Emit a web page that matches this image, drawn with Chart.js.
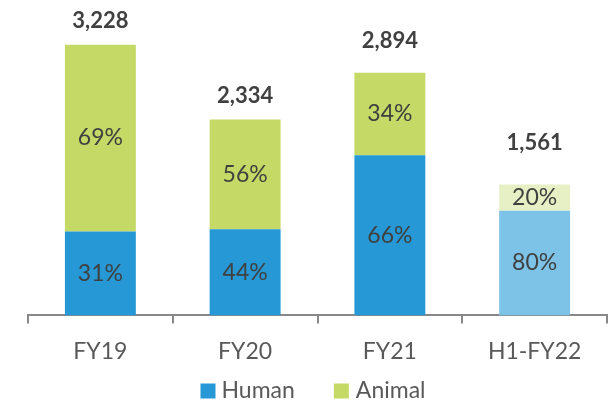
<!DOCTYPE html>
<html>
<head>
<meta charset="utf-8">
<script src="https://cdn.jsdelivr.net/npm/chart.js@4/dist/chart.umd.min.js"></script>
<style>
  body { margin: 0; background: #fff; }
  #wrap { width: 610px; height: 404px; }
</style>
</head>
<body>
<div id="wrap"><canvas id="myChart"></canvas></div>
<script>
// values
const categories = ['FY19', 'FY20', 'FY21', 'H1-FY22']
const totals = [3228, 2334, 2894, 1561]
const humanPct = [31, 44, 66, 80]
const animalPct = [69, 56, 34, 20]
const seriesNames = ['Human', 'Animal']

// colours, last bar is the half year so it is lighter
const humanColors = ['#2598d5', '#2598d5', '#2598d5', '#7dc3e7']
const animalColors = ['#c5d966', '#c5d966', '#c5d966', '#e7f0c4']
const totalGap = [24, 24, 32, 42]

const fontName = 'Lato, "Open Sans", sans-serif'

var humanVals = []
var animalVals = []
for (var i = 0; i < totals.length; i++) {
    humanVals.push(totals[i] * humanPct[i] / 100)
    animalVals.push(totals[i] * animalPct[i] / 100)
}

const labelPlugin = {
    id: 'barLabels',
    afterDatasetsDraw(chart) {
        let ctx = chart.ctx
        ctx.save()
        ctx.textAlign = 'center'
        ctx.textBaseline = 'middle'
        let pcts = [humanPct, animalPct]
        for (var d = 0; d < 2; d++) {
            let meta = chart.getDatasetMeta(d)
            meta.data.forEach(function (bar, i) {
                ctx.fillStyle = '#404040'
                ctx.font = '23px ' + fontName
                ctx.fillText(pcts[d][i] + '%', bar.x, (bar.y + bar.base) / 2)
            })
        }
        let top = chart.getDatasetMeta(1)
        top.data.forEach(function (bar, i) {
            ctx.fillStyle = '#404040'
            ctx.font = 'bold 22px ' + fontName
            ctx.fillText(totals[i].toLocaleString('en-US'), bar.x, bar.y - totalGap[i])
        })

        // legend at the bottom, drawn by hand for the tight box/text gap
        ctx.font = '23px ' + fontName
        ctx.fillStyle = '#595959'
        ctx.textAlign = 'left'
        let colors = [humanColors[0], animalColors[0]]
        let widths = seriesNames.map(function (n) { return ctx.measureText(n).width })
        let total = 15 + 6 + widths[0] + 39 + 15 + 7 + widths[1]
        let x = 313 - total / 2
        let y = 391
        for (var k = 0; k < seriesNames.length; k++) {
            ctx.fillStyle = colors[k]
            ctx.fillRect(x, y - 7.5, 15, 15)
            x += 15 + 6 + k
            ctx.fillStyle = '#595959'
            ctx.fillText(seriesNames[k], x, y)
            x += widths[k] + 39
        }
        ctx.restore()
    }
}

var ctx = document.getElementById('myChart').getContext('2d')
var myBar = new Chart(ctx, {
    type: 'bar',
    data: {
        labels: categories,
        datasets: [{
            label: seriesNames[0],
            data: humanVals,
            backgroundColor: humanColors
        }, {
            label: seriesNames[1],
            data: animalVals,
            backgroundColor: animalColors
        }]
    },
    options: {
        responsive: true,
        maintainAspectRatio: false,
        animation: false,
        categoryPercentage: 1,
        barPercentage: 0.49,
        layout: { padding: { left: 28, right: 3, top: 0, bottom: 25 } },
        plugins: {
            tooltip: { enabled: false },
            legend: { display: false }
        },
        scales: {
            x: {
                stacked: true,
                grid: {
                    drawOnChartArea: false,
                    drawTicks: true,
                    tickLength: 8,
                    color: '#888888',
                    lineWidth: 2
                },
                border: { display: true, color: '#888888', width: 2 },
                ticks: {
                    padding: 14,
                    color: '#595959',
                    font: { family: fontName, size: 23 }
                }
            },
            y: {
                stacked: true,
                display: false,
                min: 0,
                max: 3760
            }
        }
    },
    plugins: [labelPlugin]
})
</script>
</body>
</html>
